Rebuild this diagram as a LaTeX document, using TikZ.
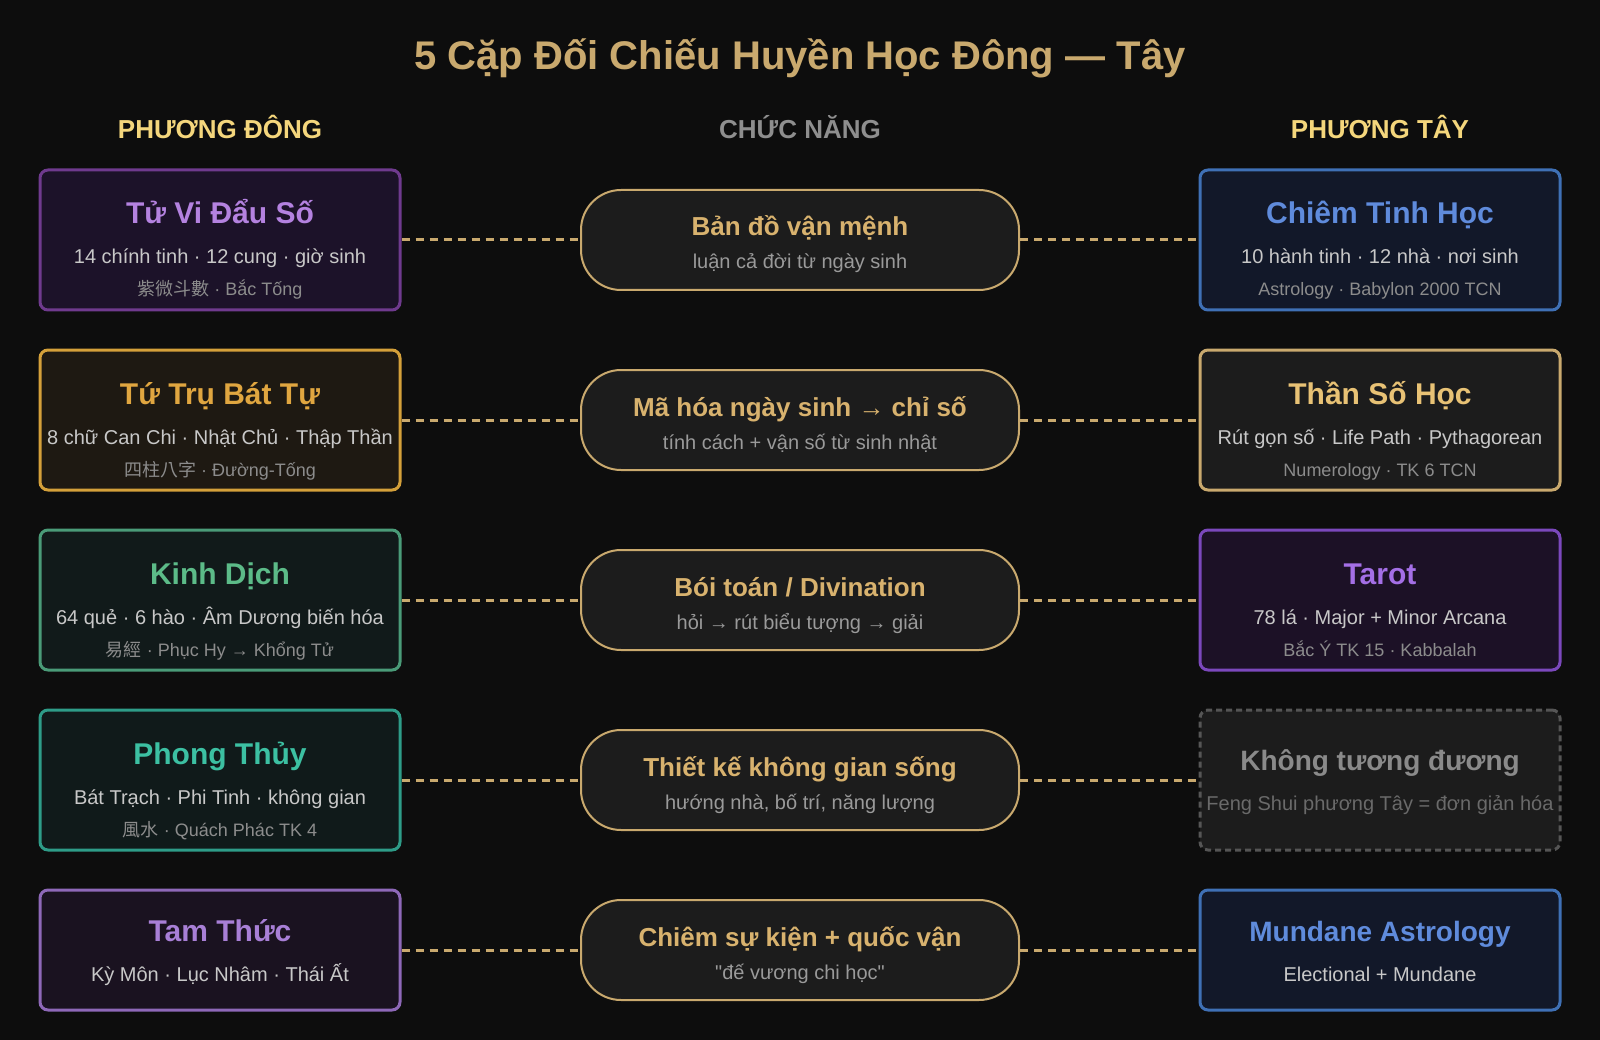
\documentclass[tikz,border=0pt]{standalone}
\usepackage{fontspec}
\setmainfont{Liberation Sans}
\newfontfamily\qfont{Liberation Sans}
\newfontfamily\cjk{Noto Sans CJK TC}
\pgfdeclarelayer{back}
\pgfdeclarelayer{mid}
\pgfsetlayers{back,mid,main}
\definecolor{bgc}{HTML}{0D0D0D}
\definecolor{gold}{HTML}{C9A96E}
\definecolor{pilltitle}{HTML}{D8B26E}
\definecolor{headyel}{HTML}{F4D67C}
\definecolor{headgray}{HTML}{8E8E8E}
\definecolor{subc}{HTML}{C8C8C8}
\definecolor{thrc}{HTML}{8C8C8C}
\definecolor{pillfill}{HTML}{1C1C1C}
\definecolor{pillsub}{HTML}{9A9A9A}
% card colours
\definecolor{aFill}{HTML}{1C1229}\definecolor{aLine}{HTML}{6F3A8E}\definecolor{aText}{HTML}{B482E0}
\definecolor{bFill}{HTML}{1E1912}\definecolor{bLine}{HTML}{D4A03A}\definecolor{bText}{HTML}{E0A640}
\definecolor{cFill}{HTML}{111A1A}\definecolor{cLine}{HTML}{4A9B78}\definecolor{cText}{HTML}{5CBB88}
\definecolor{dFill}{HTML}{101A1A}\definecolor{dLine}{HTML}{2E9C88}\definecolor{dText}{HTML}{3CC0A2}
\definecolor{eFill}{HTML}{1A1220}\definecolor{eLine}{HTML}{8E68B8}\definecolor{eText}{HTML}{A87FD6}
\definecolor{fFill}{HTML}{121829}\definecolor{fLine}{HTML}{3F70B5}\definecolor{fText}{HTML}{5F8BDC}
\definecolor{gFill}{HTML}{1C1C1C}\definecolor{gLine}{HTML}{C9A96E}\definecolor{gText}{HTML}{E8C275}
\definecolor{hFill}{HTML}{1C1126}\definecolor{hLine}{HTML}{7B48BC}\definecolor{hText}{HTML}{A46FE6}
\definecolor{iFill}{HTML}{1C1C1C}\definecolor{iLine}{HTML}{555555}\definecolor{iText}{HTML}{8A8A8A}\definecolor{iSub}{HTML}{6A6A6A}
\newcommand\myfs[1]{\fontsize{#1}{#1}\selectfont}
\tikzset{
  tx/.style={anchor=base, inner sep=0pt, outer sep=0pt},
  ttl/.style={tx, font=\myfs{30}\bfseries},
  ttlsm/.style={tx, font=\myfs{28}\bfseries},
  subl/.style={tx, font=\myfs{20}, text=subc},
  thr/.style={tx, font=\myfs{18}, text=thrc},
  ptitle/.style={tx, font=\myfs{26}\bfseries, text=pilltitle},
  psub/.style={tx, font=\myfs{20}, text=pillsub},
  head/.style={tx, font=\myfs{26}\bfseries},
  card/.style={draw, line width=3pt, rounded corners=8pt, minimum width=360pt, minimum height=140pt, inner sep=0pt},
  cardlow/.style={card, minimum height=120pt},
  pill/.style={draw=gold, fill=pillfill, line width=2pt, rounded corners=40pt, minimum width=438pt, minimum height=100pt, inner sep=0pt},
  link/.style={draw=gold, line width=3pt, dash pattern=on 8pt off 6pt},
}
\begin{document}
\begin{tikzpicture}[x=1pt,y=-1pt]
\begin{pgfonlayer}{back}
\fill[bgc] (0,0) rectangle (1600,1040);
\end{pgfonlayer}
\path[use as bounding box] (0,0) rectangle (1600,1040);

% title and headers
\node[tx, font=\myfs{40}\bfseries, text=gold] (title) at (800,70) {5 Cặp Đối Chiếu Huyền Học Đông — Tây};
\node[head, text=headyel] (hE) at (220,139) {PHƯƠNG ĐÔNG};
\node[head, text=headgray] (hM) at (800,139) {CHỨC NĂNG};
\node[head, text=headyel] (hW) at (1380,139) {PHƯƠNG TÂY};

% ---------- left cards ----------
\node[card, draw=aLine, fill=aFill] (L1) at (220,240) {};
\node[ttl, text=aText] (L1t) at (220,224) {Tử Vi Đẩu Số};
\node[subl] (L1s) at (220,264) {14 chính tinh · 12 cung · giờ sinh};
\node[thr] (L1r) at (220,296) {{\cjk 紫微斗數} · Bắc Tống};

\node[card, draw=bLine, fill=bFill] (L2) at (220,420) {};
\node[ttl, text=bText] (L2t) at (220,404) {Tứ Trụ Bát Tự};
\node[subl] (L2s) at (220,444) {8 chữ Can Chi · Nhật Chủ · Thập Thần};
\node[thr] (L2r) at (220,476) {{\cjk 四柱八字} · Đường-Tống};

\node[card, draw=cLine, fill=cFill] (L3) at (220,600) {};
\node[ttl, text=cText] (L3t) at (220,584) {Kinh Dịch};
\node[subl] (L3s) at (220,624) {64 quẻ · 6 hào · Âm Dương biến hóa};
\node[thr] (L3r) at (220,656) {{\cjk 易經} · Phục Hy → Khổng Tử};

\node[card, draw=dLine, fill=dFill] (L4) at (220,780) {};
\node[ttl, text=dText] (L4t) at (220,764) {Phong Thủy};
\node[subl] (L4s) at (220,804) {Bát Trạch · Phi Tinh · không gian};
\node[thr] (L4r) at (220,836) {{\cjk 風水} · Quách Phác TK 4};

\node[cardlow, draw=eLine, fill=eFill] (L5) at (220,950) {};
\node[ttl, text=eText] (L5t) at (220,941) {Tam Thức};
\node[subl] (L5s) at (220,981) {Kỳ Môn · Lục Nhâm · Thái Ất};

% ---------- middle pills ----------
\node[pill] (M1) at (800,240) {};
\node[ptitle] (M1t) at (800,236) {Bản đồ vận mệnh};
\node[psub] (M1s) at (800,269) {luận cả đời từ ngày sinh};

\node[pill] (M2) at (800,420) {};
\node[ptitle] (M2t) at (800,416) {Mã hóa ngày sinh → chỉ số};
\node[psub] (M2s) at (800,449) {tính cách + vận số từ sinh nhật};

\node[pill] (M3) at (800,600) {};
\node[ptitle] (M3t) at (800,596) {Bói toán / Divination};
\node[psub] (M3s) at (800,629) {hỏi → rút biểu tượng → giải};

\node[pill] (M4) at (800,780) {};
\node[ptitle] (M4t) at (800,776) {Thiết kế không gian sống};
\node[psub] (M4s) at (800,809) {hướng nhà, bố trí, năng lượng};

\node[pill] (M5) at (800,950) {};
\node[ptitle] (M5t) at (800,946) {Chiêm sự kiện + quốc vận};
\node[psub] (M5s) at (800,979) {{\qfont "đế vương chi học"}};

% ---------- right cards ----------
\node[card, draw=fLine, fill=fFill] (R1) at (1380,240) {};
\node[ttl, text=fText] (R1t) at (1380,224) {Chiêm Tinh Học};
\node[subl] (R1s) at (1380,264) {10 hành tinh · 12 nhà · nơi sinh};
\node[thr] (R1r) at (1380,296) {Astrology · Babylon 2000 TCN};

\node[card, draw=gLine, fill=gFill] (R2) at (1380,420) {};
\node[ttl, text=gText] (R2t) at (1380,404) {Thần Số Học};
\node[subl] (R2s) at (1380,444) {Rút gọn số · Life Path · Pythagorean};
\node[thr] (R2r) at (1380,476) {Numerology · TK 6 TCN};

\node[card, draw=hLine, fill=hFill] (R3) at (1380,600) {};
\node[ttl, text=hText] (R3t) at (1380,584) {Tarot};
\node[subl] (R3s) at (1380,624) {78 lá · Major + Minor Arcana};
\node[thr] (R3r) at (1380,656) {Bắc Ý TK 15 · Kabbalah};

\node[card, draw=iLine, fill=iFill, dash pattern=on 6pt off 4pt] (R4) at (1380,780) {};
\node[ttlsm, text=iText] (R4t) at (1380,770) {Không tương đương};
\node[subl, text=iSub] (R4s) at (1380,810) {Feng Shui phương Tây = đơn giản hóa};

\node[cardlow, draw=fLine, fill=fFill] (R5) at (1380,950) {};
\node[ttlsm, text=fText] (R5t) at (1380,941) {Mundane Astrology};
\node[subl] (R5s) at (1380,981) {Electional + Mundane};

% ---------- connectors ----------
\begin{pgfonlayer}{mid}
\foreach \i in {1,...,5}{
  \draw[link] (L\i.east) -- (M\i.west);
  \draw[link] (M\i.east) -- (R\i.west);
}
\end{pgfonlayer}
\end{tikzpicture}
\end{document}
